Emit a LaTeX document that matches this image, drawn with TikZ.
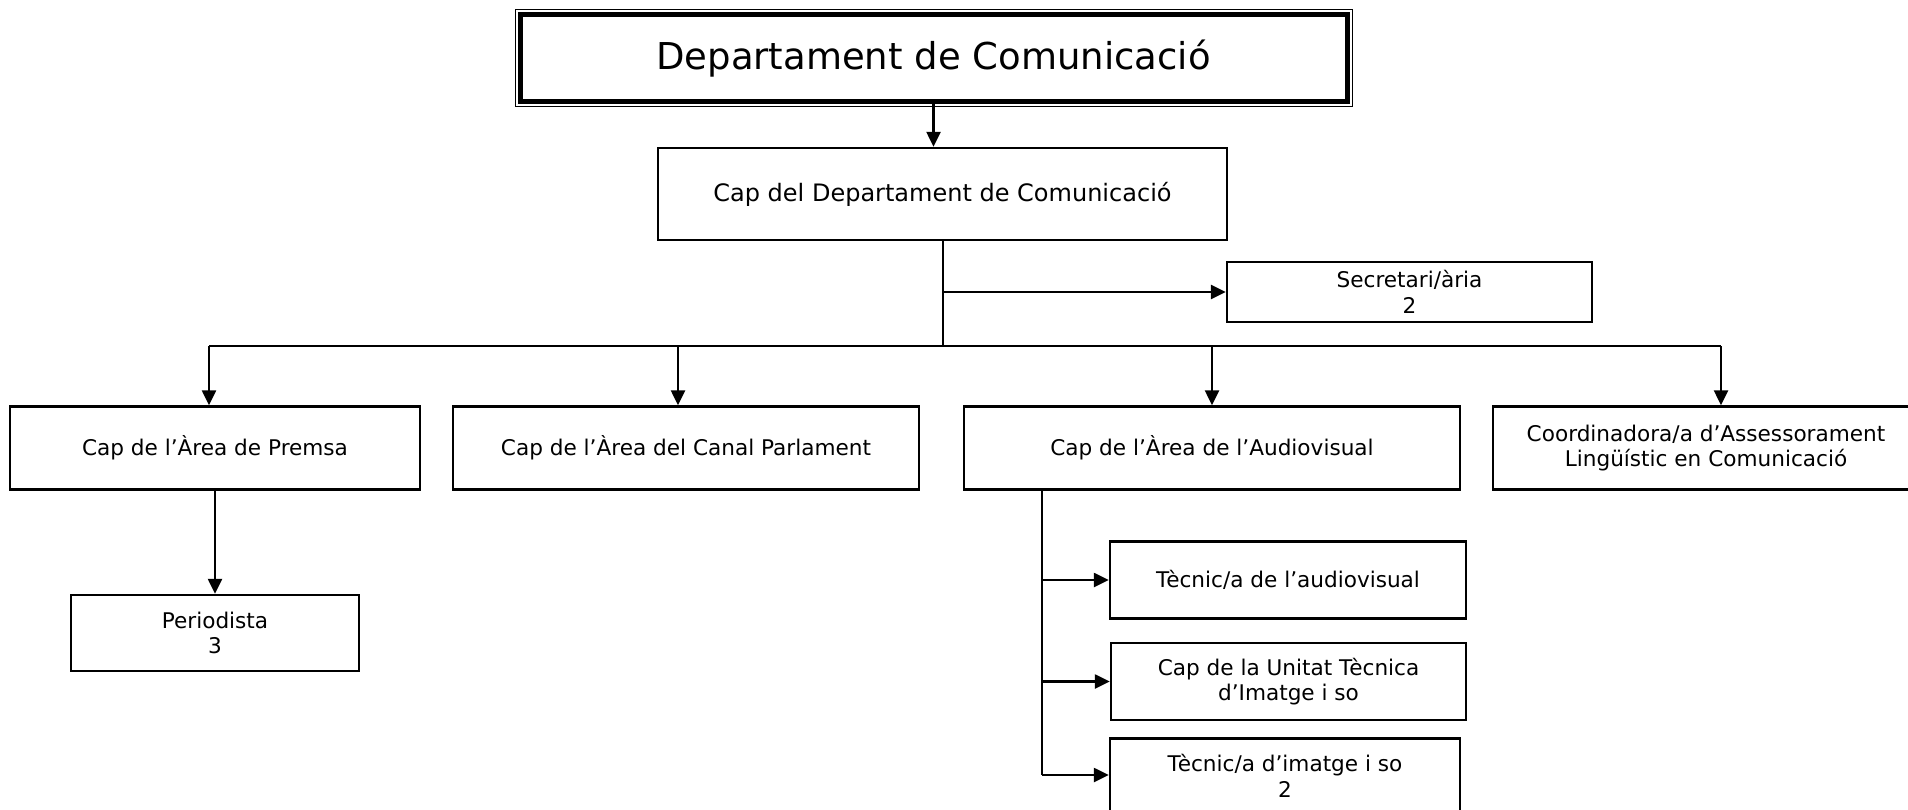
\documentclass[tikz,border=0pt]{standalone}
\usepackage{fontspec}
\setmainfont{DejaVu Sans}
\usetikzlibrary{arrows.meta}
\begin{document}
\begin{tikzpicture}[x=1pt,y=-1pt,
  box/.style={draw, line width=2.4pt, inner sep=0pt, align=center, font=\fontsize{21.6}{25.5}\selectfont},
  conn/.style={line width=2.4pt},
  arr/.style={line width=2.4pt, -{Triangle[length=15pt,width=14pt]}}]
\useasboundingbox (0,0) rectangle (1908,810);
% title
\node[draw, line width=5pt, inner sep=0pt, minimum width=827pt, minimum height=87pt, font=\fontsize{37}{44}\selectfont] (title) at (933.5,58.5) {Departament de Comunicació};
\draw[line width=1pt] (515,10) rectangle (1352,107);
\node[box, minimum width=569pt, minimum height=92pt, font=\fontsize{24}{29}\selectfont] (cap) at (942.5,194) {Cap del Departament de Comunicació};
\node[box, minimum width=365pt, minimum height=60pt] (sec) at (1409.5,292) {Secretari/ària\\2};
\node[box, minimum width=410pt, minimum height=83pt] (premsa) at (215,448) {Cap de l’Àrea de Premsa};
\node[box, minimum width=466pt, minimum height=83pt] (canal) at (686,448) {Cap de l’Àrea del Canal Parlament};
\node[box, minimum width=496pt, minimum height=83pt] (audio) at (1212,448) {Cap de l’Àrea de l’Audiovisual};
\node[box, minimum width=426pt, minimum height=83pt] (coord) at (1706,448) {Coordinadora/a d’Assessorament\\Lingüístic en Comunicació};
\node[box, minimum width=288pt, minimum height=76pt] (perio) at (215,633) {Periodista\\3};
\node[box, minimum width=356pt, minimum height=77pt] (tav) at (1288,580) {Tècnic/a de l’audiovisual};
\node[box, minimum width=355pt, minimum height=77pt] (cut) at (1288.5,681.5) {Cap de la Unitat Tècnica\\d’Imatge i so};
\node[box, minimum width=350pt, minimum height=75pt] (tis) at (1285,776) {Tècnic/a d’imatge i so\\2};
% coordinates
\coordinate (bus) at (943,346);
\coordinate (secj) at (943,292);
\coordinate (bL) at (209,346);
\coordinate (bR) at (1721,346);
\coordinate (bC) at (678,346);
\coordinate (bA) at (1212,346);
\coordinate (aj) at (1042,775);
% connectors
\draw[arr] (title.south) -- (title.south |- cap.north);
\draw[conn] (cap.south -| bus) -- (bus);
\draw[arr] (secj) -- (sec.west);
\draw[conn] (bL) -- (bR);
\draw[arr] (bL) -- (bL |- premsa.north);
\draw[arr] (bC) -- (bC |- canal.north);
\draw[arr] (bA) -- (audio.north);
\draw[arr] (bR) -- (bR |- coord.north);
\draw[arr] (premsa.south) -- (perio.north);
\draw[conn] (audio.south -| aj) -- (aj);
\draw[arr] (aj |- tav.west) -- (tav.west);
\draw[arr] (aj |- cut.west) -- (cut.west);
\draw[arr] (aj) -- (aj -| tis.west);
\end{tikzpicture}
\end{document}
